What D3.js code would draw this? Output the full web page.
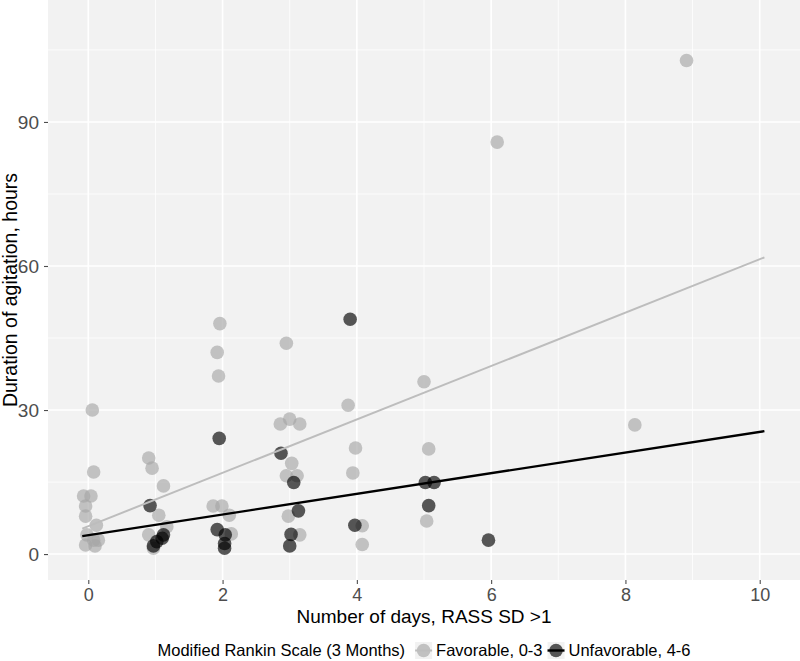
<!DOCTYPE html>
<html>
<head>
<meta charset="utf-8">
<script src="https://cdn.jsdelivr.net/npm/d3@7"></script>
<style>
  html, body { margin: 0; padding: 0; background: #ffffff; }
  svg { display: block; font-family: "Liberation Sans", Arial, sans-serif; }
</style>
</head>
<body>
<svg id="chart" width="800" height="661"></svg>
<script>
// ---- Data ----
const groups = ["Favorable, 0-3", "Unfavorable, 4-6"];
const legendTitle = "Modified Rankin Scale (3 Months)";
const xTitle = "Number of days, RASS SD >1";
const yTitle = "Duration of agitation, hours";
const xTicks = [0, 2, 4, 6, 8, 10];
const yTicks = [0, 30, 60, 90];
const xMinor = [1, 3, 5, 7, 9];
const yMinor = [15, 45, 75, 105];

const favorableX = [-0.07, 0.04, -0.04, -0.04, 0.12, 0.06, 0.08, -0.02, 0.08, 0.15, -0.04, 0.10,
  0.90, 0.95, 1.12, 1.05, 1.17, 0.90, 0.97,
  1.96, 1.92, 1.94, 1.86, 1.99, 2.10, 2.13,
  2.95, 2.86, 3.00, 3.15, 3.03, 2.95, 3.11, 2.98, 3.15,
  3.87, 3.98, 3.94, 4.08, 4.08,
  5.00, 5.07, 5.04,
  6.09, 8.14, 8.91];
const favorableY = [12.1, 12.1, 10.0, 7.9, 6.0, 30.0, 17.1, 4.0, 2.9, 2.9, 1.9, 1.7,
  20.0, 17.9, 14.2, 8.1, 5.7, 4.0, 1.2,
  48.0, 42.0, 37.1, 10.0, 10.0, 8.1, 4.2,
  43.9, 27.1, 28.1, 27.1, 18.9, 16.3, 16.3, 7.9, 4.0,
  31.0, 22.1, 16.9, 5.9, 2.0,
  35.9, 21.9, 6.9,
  85.8, 26.9, 102.8];

const unfavorableX = [0.92, 1.02, 1.12, 1.10, 0.97,
  1.95, 1.92, 2.04, 2.03, 2.03,
  2.87, 3.06, 3.13, 3.02, 3.00,
  3.90, 3.97,
  5.02, 5.15, 5.07,
  5.96];
const unfavorableY = [10.1, 2.6, 4.0, 3.3, 1.7,
  24.1, 5.1, 4.0, 2.2, 1.2,
  21.0, 14.9, 9.0, 4.1, 1.7,
  48.9, 6.0,
  14.9, 14.9, 10.1,
  2.9];

// Fitted linear trend lines (end points)
const favorableFitX = [-0.09, 10.07];
const favorableFitY = [5.3, 61.8];
const unfavorableFitX = [-0.09, 10.07];
const unfavorableFitY = [3.75, 25.6];

// ---- Styling ----
const colors = { fav: "#a6a6a6", unfav: "#000000" };
const lineColors = { fav: "#bdbdbd", unfav: "#000000" };
const pointOpacity = 0.65;
const r = 6.8;

const svg = d3.select("#chart");
const panel = { left: 48, right: 800, top: 0, bottom: 580 };

const x = d3.scaleLinear().domain([-0.6, 10.6]).range([panel.left, panel.right]);
const y = d3.scaleLinear().domain([-5.4, 115.4]).range([panel.bottom, panel.top]);

// panel background
svg.append("rect")
  .attr("x", panel.left).attr("y", panel.top)
  .attr("width", panel.right - panel.left).attr("height", panel.bottom - panel.top)
  .attr("fill", "#f2f2f2");

// grid
const grid = svg.append("g");
grid.selectAll(".xminor").data(xMinor).join("line")
  .attr("x1", d => x(d)).attr("x2", d => x(d))
  .attr("y1", panel.top).attr("y2", panel.bottom)
  .attr("stroke", "#ffffff").attr("stroke-width", 0.8);
grid.selectAll(".yminor").data(yMinor).join("line")
  .attr("y1", d => y(d)).attr("y2", d => y(d))
  .attr("x1", panel.left).attr("x2", panel.right)
  .attr("stroke", "#ffffff").attr("stroke-width", 0.8);
grid.selectAll(".xmajor").data(xTicks).join("line")
  .attr("x1", d => x(d)).attr("x2", d => x(d))
  .attr("y1", panel.top).attr("y2", panel.bottom)
  .attr("stroke", "#ffffff").attr("stroke-width", 1.6);
grid.selectAll(".ymajor").data(yTicks).join("line")
  .attr("y1", d => y(d)).attr("y2", d => y(d))
  .attr("x1", panel.left).attr("x2", panel.right)
  .attr("stroke", "#ffffff").attr("stroke-width", 1.6);

// axes
const xAxis = svg.append("g")
  .attr("transform", `translate(0,${panel.bottom})`)
  .call(d3.axisBottom(x).tickValues(xTicks).tickSize(4).tickPadding(4).tickFormat(d3.format("d")));
const yAxis = svg.append("g")
  .attr("transform", `translate(${panel.left},0)`)
  .call(d3.axisLeft(y).tickValues(yTicks).tickSize(4).tickPadding(5).tickFormat(d3.format("d")));
[xAxis, yAxis].forEach(a => {
  a.select(".domain").remove();
  a.selectAll(".tick line").attr("stroke", "#4d4d4d").attr("stroke-width", 1.1);
  a.selectAll(".tick text").attr("fill", "#4d4d4d")
    .style("font-family", "'Liberation Sans', Arial, sans-serif");
});
xAxis.selectAll(".tick text").style("font-size", "18px");
yAxis.selectAll(".tick text").style("font-size", "19px");

// points
const favPts = favorableX.map((d, i) => [d, favorableY[i]]);
const unfavPts = unfavorableX.map((d, i) => [d, unfavorableY[i]]);

svg.append("g").selectAll("circle").data(favPts).join("circle")
  .attr("cx", d => x(d[0])).attr("cy", d => y(d[1])).attr("r", r)
  .attr("fill", colors.fav).attr("fill-opacity", pointOpacity);
svg.append("g").selectAll("circle").data(unfavPts).join("circle")
  .attr("cx", d => x(d[0])).attr("cy", d => y(d[1])).attr("r", r)
  .attr("fill", colors.unfav).attr("fill-opacity", pointOpacity);

// fit lines
const line = d3.line().x(d => x(d[0])).y(d => y(d[1]));
svg.append("path")
  .datum(favorableFitX.map((d, i) => [d, favorableFitY[i]]))
  .attr("d", line).attr("fill", "none")
  .attr("stroke", lineColors.fav).attr("stroke-width", 2);
svg.append("path")
  .datum(unfavorableFitX.map((d, i) => [d, unfavorableFitY[i]]))
  .attr("d", line).attr("fill", "none")
  .attr("stroke", lineColors.unfav).attr("stroke-width", 2.4);

// axis titles
svg.append("text")
  .attr("x", (panel.left + panel.right) / 2).attr("y", 623)
  .attr("text-anchor", "middle")
  .style("font-size", "19px").attr("fill", "#000")
  .text(xTitle);
svg.append("text")
  .attr("transform", `translate(16.5,${(panel.top + panel.bottom) / 2}) rotate(-90)`)
  .attr("text-anchor", "middle")
  .style("font-size", "19.5px").attr("fill", "#000")
  .text(yTitle);

// legend
const legend = svg.append("g");
const legendY = 650.5;
const fs = "16.5px";
const lt = legend.append("text").attr("x", 0).attr("y", legendY + 5.8)
  .style("font-size", fs).attr("fill", "#000").text(legendTitle);
let cursor = lt.node().getComputedTextLength() + 10;
const keySize = 17;
const keys = [
  { label: groups[0], fill: colors.fav, stroke: lineColors.fav, sw: 2 },
  { label: groups[1], fill: colors.unfav, stroke: lineColors.unfav, sw: 2.4 }
];
keys.forEach((k, i) => {
  legend.append("rect").attr("x", cursor).attr("y", legendY - keySize / 2)
    .attr("width", keySize).attr("height", keySize).attr("fill", "#f2f2f2");
  legend.append("circle").attr("cx", cursor + keySize / 2).attr("cy", legendY).attr("r", r)
    .attr("fill", k.fill).attr("fill-opacity", pointOpacity);
  legend.append("line").attr("x1", cursor).attr("x2", cursor + keySize)
    .attr("y1", legendY).attr("y2", legendY)
    .attr("stroke", k.stroke).attr("stroke-width", k.sw);
  cursor += keySize + 4;
  const t = legend.append("text").attr("x", cursor).attr("y", legendY + 5.8)
    .style("font-size", fs).attr("fill", "#000").text(k.label);
  cursor += t.node().getComputedTextLength() + (i === 0 ? 5 : 0);
});
const totalW = cursor;
legend.attr("transform", `translate(${(panel.left + panel.right) / 2 - totalW / 2},0)`);
</script>
</body>
</html>
